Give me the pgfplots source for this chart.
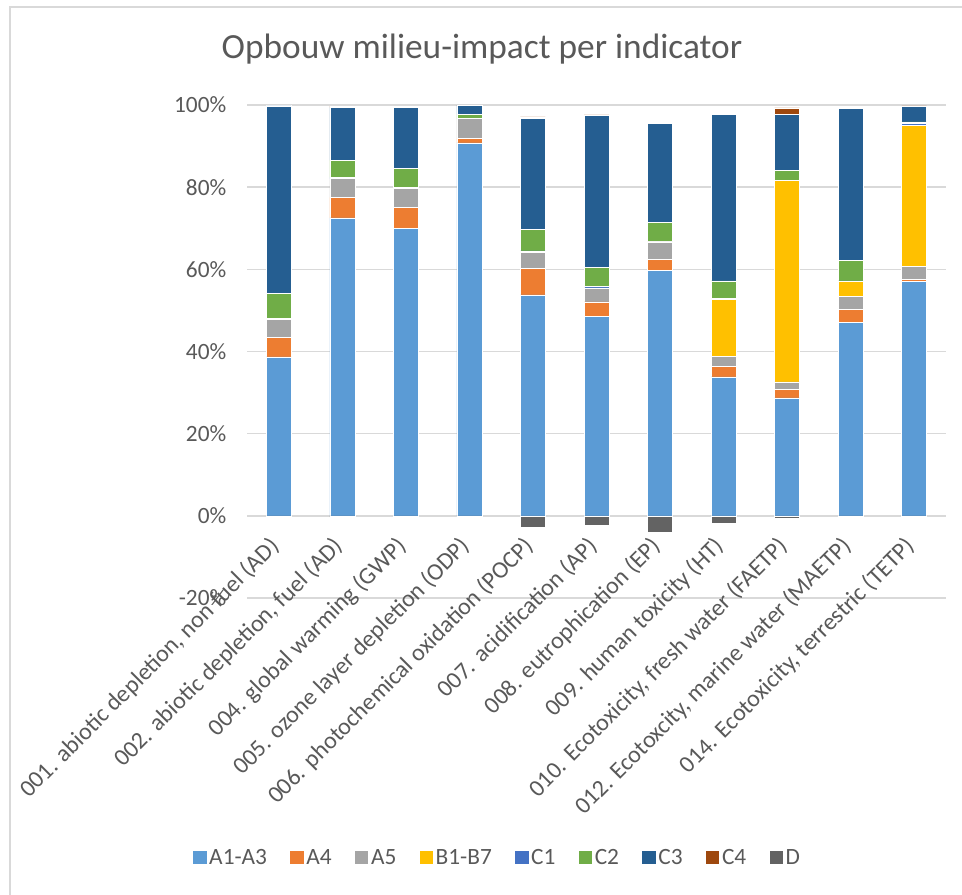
\documentclass[border=0pt]{standalone}
\usepackage{pgfplots}
\pgfplotsset{compat=1.18}
\usepackage{pgfplotstable}
\usepackage{fontspec}
\setmainfont{Carlito}

\definecolor{txt}{HTML}{595959}
\definecolor{grd}{HTML}{D9D9D9}
\definecolor{cA}{HTML}{5B9BD5}
\definecolor{cB}{HTML}{ED7D31}
\definecolor{cC}{HTML}{A5A5A5}
\definecolor{cD}{HTML}{FFC000}
\definecolor{cE}{HTML}{4472C4}
\definecolor{cF}{HTML}{70AD47}
\definecolor{cG}{HTML}{255E91}
\definecolor{cH}{HTML}{9E480E}
\definecolor{cI}{HTML}{636363}

% shares in % per indicator
\pgfplotstableread{
x  A13  A4   A5   B17  C1   C2   C3   C4   D
0  38.7 4.8  4.4  0    0.2  6.0  45.7 0.1  0
1  72.5 5.0  4.6  0    0.3  4.2  12.8 0.3  -0.3
2  69.9 5.2  4.6  0    0.3  4.5  14.9 0.2  -0.4
3  90.8 1.1  4.8  0    0.1  0.9  2.2  0.1  0
4  53.8 6.4  4.0  0    0.3  5.3  26.9 0.4  -2.8
5  48.6 3.5  3.4  0    0.3  4.7  36.9 0.2  -2.3
6  59.8 2.7  4.2  0    0.1  4.7  24.0 0.3  -4.0
7  33.8 2.5  2.6  13.7 0.3  4.3  40.6 0.2  -1.8
8  28.7 2.0  1.9  49.0 0.1  2.3  13.7 1.6  -0.5
9  47.1 3.2  3.1  3.6  0.2  4.9  37.1 0.3  -0.3
10 57.1 0.5  3.2  34.2 0.5  0.4  3.8  0.1  -0.2
}\impact

\newcommand{\lbl}{\fontsize{18}{21}\selectfont\color{txt}}
\newcommand{\tck}{\fontsize{17.5}{21}\selectfont\color{txt}}

\begin{document}
\begin{tikzpicture}
\path[use as bounding box] (0pt,0pt) rectangle (721.5pt,-670.5pt);
\draw[grd, line width=1.5pt] (7.5pt,-672pt) -- (7.5pt,-5.25pt) -- (723pt,-5.25pt);
\node[font=\fontsize{26.5}{30}\selectfont, text=txt] at (361.5pt,-36.5pt) {Opbouw milieu-impact per indicator};

\begin{axis}[
  at={(185.25pt,-448.5pt)}, anchor=south west,
  scale only axis, width=524.25pt, height=369.75pt,
  ybar stacked, bar width=18.75pt,
  xmin=-0.5, xmax=10.5, ymin=-20, ymax=100,
  axis line style={draw=none}, major tick length=0pt,
  ytick={-20,0,...,100},
  ymajorgrids, grid style={grd, line width=1.1pt},
  /pgf/number format/assume math mode=true,
  yticklabel={\pgfmathprintnumber{\tick}\%},
  yticklabel style={font=\tck, xshift=-12pt},
  xtick={0,...,10},
  xticklabels={{001. abiotic depletion, non fuel (AD)},
    {002. abiotic depletion, fuel (AD)},
    {004. global warming (GWP)},
    {005. ozone layer depletion (ODP)},
    {006. photochemical oxidation (POCP)},
    {007. acidification (AP)},
    {008. eutrophication (EP)},
    {009. human toxicity (HT)},
    {010. Ecotoxicity, fresh water (FAETP)},
    {012. Ecotoxcity, marine water (MAETP)},
    {014. Ecotoxicity, terrestric (TETP)}},
  xticklabel style={font=\lbl, yshift=44pt, rotate=45, anchor=east},
  legend columns=9,
  legend style={at={(0.359,-0.527)}, anchor=center, draw=none, fill=none,
    font=\tck, /tikz/every even column/.append style={column sep=15.5pt}},
  sq/.style={legend image code/.code={\fill[##1, draw=none] (0pt,-5pt) rectangle (10pt,5pt);}},
  every axis plot/.append style={draw=white, line width=0.4pt, sq},
]
\addplot[fill=cA, sq] table[x=x, y=A13] {\impact};
\addplot[fill=cB, sq] table[x=x, y=A4] {\impact};
\addplot[fill=cC, sq] table[x=x, y=A5] {\impact};
\addplot[fill=cD, sq] table[x=x, y=B17] {\impact};
\addplot[fill=cE, sq] table[x=x, y=C1] {\impact};
\addplot[fill=cF, sq] table[x=x, y=C2] {\impact};
\addplot[fill=cG, sq] table[x=x, y=C3] {\impact};
\addplot[fill=cH, sq] table[x=x, y=C4] {\impact};
\addlegendimage{fill=cI, sq}
\legend{A1-A3,A4,A5,B1-B7,C1,C2,C3,C4,D}
\end{axis}

\begin{axis}[
  at={(185.25pt,-448.5pt)}, anchor=south west,
  scale only axis, width=524.25pt, height=369.75pt,
  ybar, bar width=18.75pt, bar shift=0pt,
  xmin=-0.5, xmax=10.5, ymin=-20, ymax=100,
  hide axis,
]
\addplot[fill=cI, draw=white, line width=0.4pt] table[x=x, y=D] {\impact};
\end{axis}
\end{tikzpicture}
\end{document}
